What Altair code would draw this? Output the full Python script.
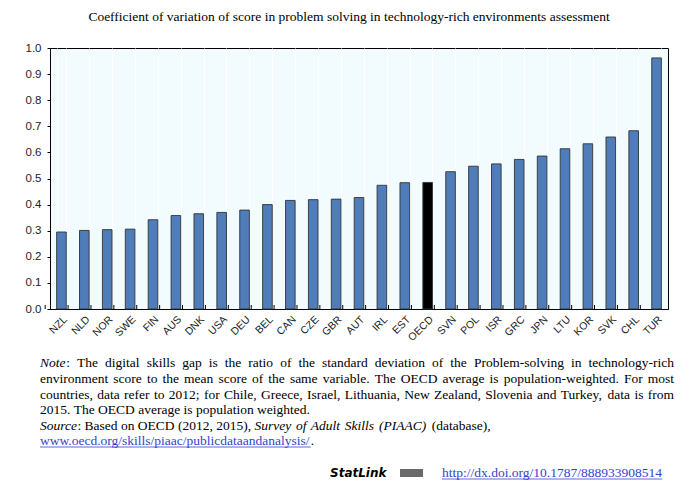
import altair as alt
import pandas as pd

countries = ["NZL", "NLD", "NOR", "SWE", "FIN", "AUS", "DNK", "USA", "DEU", "BEL",
             "CAN", "CZE", "GBR", "AUT", "IRL", "EST", "OECD", "SVN", "POL", "ISR",
             "GRC", "JPN", "LTU", "KOR", "SVK", "CHL", "TUR"]
values = [0.295, 0.301, 0.304, 0.306, 0.342, 0.358, 0.365, 0.370, 0.379, 0.400,
          0.416, 0.419, 0.421, 0.427, 0.474, 0.484, 0.485, 0.526, 0.547, 0.556,
          0.573, 0.586, 0.614, 0.633, 0.659, 0.683, 0.962]
highlight = "OECD"

title_text = "Coefficient of variation of score in problem solving in technology-rich environments assessment"
# note paragraph: each line is a list of (text, style) runs
note_lines = [
    [("Note", "italic"), (": The digital skills gap is the ratio of the standard deviation of the Problem-solving in technology-rich", "normal")],
    [("environment score to the mean score of the same variable. The OECD average is population-weighted. For most", "normal")],
    [("countries, data refer to 2012; for Chile, Greece, Israel, Lithuania, New Zealand, Slovenia and Turkey, data is from", "normal")],
    [("2015. The OECD average is population weighted.", "normal")],
    [("Source", "italic"), (": Based on OECD (2012, 2015), ", "normal"),
     ("Survey of Adult Skills (PIAAC)", "italic"), (" (database),", "normal")],
]
justified = [True, True, True, False, False]
src_url = "www.oecd.org/skills/piaac/publicdataandanalysis/"
statlink_label = "StatLink"
statlink_url = "http://dx.doi.org/10.1787/888933908514"

W, H = 618, 261
SERIF = "Liberation Serif"
SANS = "Liberation Sans"
LINK = "#3344CC"
FS = 13.5
X0, X1 = -10, 624

# Times (Liberation Serif) advance widths per 1000 em
_TW = {" ": 250, ",": 250, ".": 250, ":": 278, ";": 278, "-": 333, "(": 333, ")": 333,
       "/": 278, "'": 180}
for c in "0123456789":
    _TW[c] = 500
_TW.update(dict(zip("ABCDEFGHIJKLMNOPQRSTUVWXYZ",
                    [722, 667, 667, 722, 611, 556, 722, 722, 333, 389, 722, 611, 889,
                     722, 722, 556, 722, 667, 556, 611, 722, 722, 944, 722, 722, 611])))
_TW.update(dict(zip("abcdefghijklmnopqrstuvwxyz",
                    [444, 500, 444, 500, 444, 333, 500, 500, 278, 278, 500, 278, 778,
                     500, 500, 500, 500, 333, 389, 278, 500, 500, 722, 500, 500, 444])))


def tw(s, size=FS):
    return sum(_TW.get(c, 500) for c in s) * size / 1000.0


df = pd.DataFrame({"country": countries, "value": values})
df["is_oecd"] = df["country"] == highlight

xscale = alt.Scale(domain=countries, paddingInner=0.58, paddingOuter=0.29)

bars = alt.Chart(df).mark_bar(stroke="#333333", strokeWidth=0.9).encode(
    x=alt.X("country:N", sort=countries, scale=xscale, title=None,
            axis=alt.Axis(labelAngle=315, labelFont=SANS, labelFontSize=10.5,
                          labelColor="#222222", ticks=False, tickBand="extent",
                          grid=True, gridColor="#FFFFFF", gridWidth=1,
                          domainColor="#000000", labelPadding=5)),
    y=alt.Y("value:Q", scale=alt.Scale(domain=[0, 1], nice=False), title=None,
            axis=alt.Axis(values=[i / 10 for i in range(11)], format=".1f",
                          labelFont=SANS, labelFontSize=11.5, labelColor="#222222",
                          tickSize=3, tickColor="#000000", domainColor="#000000",
                          grid=False, labelPadding=6)),
    color=alt.Color("is_oecd:N", scale=alt.Scale(domain=[False, True],
                                                 range=["#4F7DBA", "#000000"]),
                    legend=None),
)

ticks = alt.Chart(df).mark_rule(color="#000000", strokeWidth=1).encode(
    x=alt.X("country:N", sort=countries, scale=xscale),
    xOffset=alt.value(-W / 27 / 2),
    y=alt.value(H),
    y2=alt.value(H - 4),
)

one = pd.DataFrame({"a": [0]})


def txt(s, x, y, size=FS, style="normal", color="#000000", align="left",
        font=SERIF, weight="normal"):
    return alt.Chart(one).mark_text(
        text=s, align=align, baseline="middle", font=font, fontSize=size,
        fontStyle=style, fontWeight=weight, color=color
    ).encode(x=alt.value(x), y=alt.value(y))


def underline(x1, x2, y, color=LINK):
    return alt.Chart(one).mark_rule(color=color, strokeWidth=0.8).encode(
        x=alt.value(x1), x2=alt.value(x2), y=alt.value(y))


def layout_line(runs, y, justify):
    # split runs into words (lists of (piece, style)) separated by spaces
    words = [[]]
    for text, style in runs:
        parts = text.split(" ")
        for i, p in enumerate(parts):
            if i > 0:
                words.append([])
            if p:
                words[-1].append((p, style))
    words = [w for w in words if w]
    widths = [sum(tw(p) for p, _ in w) for w in words]
    if justify and len(words) > 1:
        gap = (X1 - X0 - sum(widths)) / (len(words) - 1)
    else:
        gap = tw(" ")
    out = []
    x = X0
    for w, wd in zip(words, widths):
        xx = x
        for p, st in w:
            out.append(txt(p, xx, y, style=st))
            xx += tw(p)
        x += wd + gap
    return out


line_y = [315, 331, 347, 362, 378]
note_layers = []
for runs, yy, j in zip(note_lines, line_y, justified):
    note_layers += layout_line(runs, yy, j)

url_w = tw(src_url)

layers = [
    bars, ticks,
    txt(title_text, 299, -31, align="center"),
    *note_layers,
    txt(src_url, X0, 393, color=LINK),
    txt(".", X0 + url_w, 393),
    underline(X0, X0 + url_w, 399),
    txt(statlink_label, 280, 425, size=12, style="italic", weight="bold", font="DejaVu Sans"),
    alt.Chart(one).mark_rect(color="#6A6A6A").encode(
        x=alt.value(350), x2=alt.value(373), y=alt.value(421), y2=alt.value(429)),
    txt(statlink_url, 392, 425, color=LINK),
    underline(392, 392 + tw(statlink_url), 431),
]

chart = alt.layer(*layers).properties(
    width=W, height=H,
    autosize=alt.AutoSizeParams(type="none"),
    padding={"left": 42, "top": 40, "right": 24, "bottom": 178},
).configure_view(
    fill="#F2FCFF", stroke="#000000", strokeWidth=1
).configure_axis(labelOverlap=False)

chart.save("out.html", embed_options={"renderer": "svg", "actions": False})
